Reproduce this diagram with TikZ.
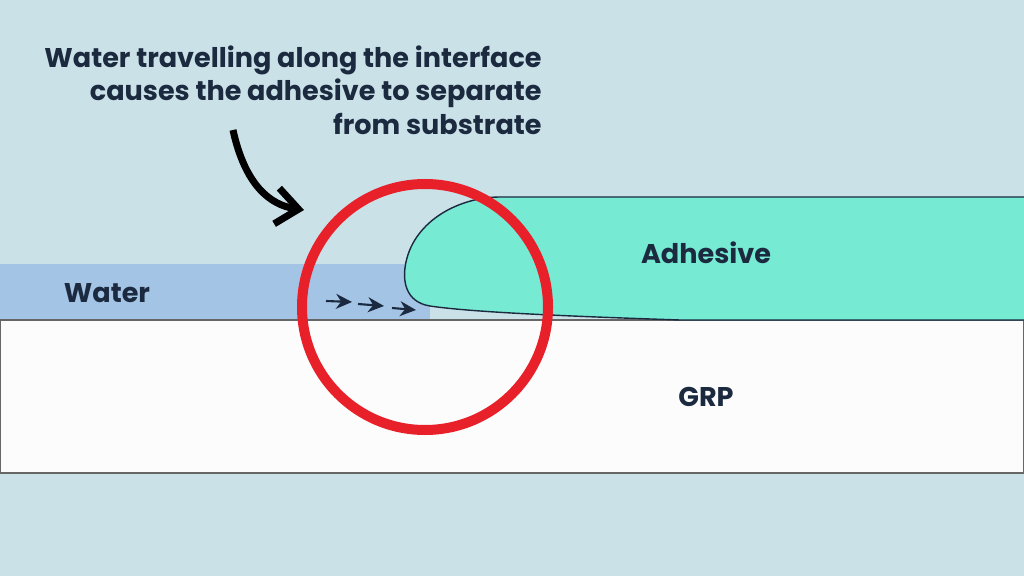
\documentclass[tikz,border=0pt]{standalone}
\usepackage{fontspec}
\setmainfont{Poppins}
\usetikzlibrary{arrows.meta}
\definecolor{bgblue}{HTML}{CAE1E8}
\definecolor{waterblue}{HTML}{A4C4E6}
\definecolor{gluegreen}{HTML}{76EAD3}
\definecolor{navy}{HTML}{1B2A3F}
\definecolor{ringred}{HTML}{E8202A}
\tikzset{
  label text/.style={text=navy,font=\bfseries\fontsize{7.7}{9.6}\selectfont},
  flow arrow/.style={-{Stealth[length=1.6mm,width=1.5mm]},navy,line width=0.6pt}
}
\begin{document}
\begin{tikzpicture}[x=0.01cm,y=-0.01cm]
    % Background
    \fill[bgblue] (0,0) rectangle (1024,576);
    \useasboundingbox (0,0) rectangle (1024,576);
    % Layers
    \fill[waterblue] (0,264) rectangle (430,320);
    \draw[gray!80!black,fill=white!98!gray,line width=0.4pt] (0,320) rectangle (1024,473);
    \draw[navy,fill=gluegreen,line width=0.4pt] (1024,320) -- (680,320)
      .. controls (560,316) and (470,312) .. (430,306)
      .. controls (405,302) and (402,280) .. (406,262)
      .. controls (415,220) and (460,197) .. (500,197) -- (1024,197);
    \fill[gluegreen] (1024,198) rectangle (1025,320);
    % Labels
    \node[label text] (water) at (107,293) {Water};
    \node[label text] (adhesive) at (706,253) {Adhesive};
    \node[label text] (grp) at (706,397) {GRP};
    \node[label text,align=right,anchor=north east] (note) at (554,33)
      {Water travelling along the interface\\causes the adhesive to separate\\from substrate};
    % Flow
    \coordinate (f1) at (326,301); \coordinate (f1e) at (352,302);
    \coordinate (f2) at (358,304); \coordinate (f2e) at (384,306);
    \coordinate (f3) at (392,308); \coordinate (f3e) at (416,310);
    \draw[flow arrow] (f1) -- (f1e);
    \draw[flow arrow] (f2) -- (f2e);
    \draw[flow arrow] (f3) -- (f3e);
    % Ring and pointer
    \draw[ringred,line width=1mm] (425,307) circle (123);
    \coordinate (p0) at (233,130); \coordinate (p1) at (304,210);
    \draw[-{Straight Barb[length=2.2mm,width=3.6mm]},line width=0.7mm,black]
      (p0) .. controls (245,185) and (270,205) .. (p1);
\end{tikzpicture}
\end{document}
